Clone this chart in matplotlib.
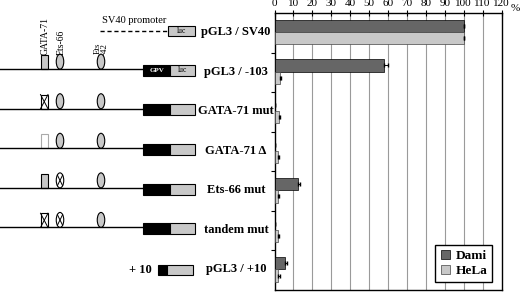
import matplotlib
matplotlib.use("Agg")
import matplotlib.pyplot as plt
from matplotlib.patches import Rectangle, Ellipse
import numpy as np

plt.rcParams['font.family'] = ['Liberation Serif', 'DejaVu Serif']

constructs = ["pGL3 / SV40", "pGL3 / -103", "GATA-71 mut", "GATA-71 \u0394",
              "Ets-66 mut", "tandem mut", "pGL3 / +10"]
dami = [100, 58, 0.5, 0.3, 12.3, 0.3, 5.5]
dami_err = [0, 2, 0, 0, 1.2, 0, 1.0]
hela = [100, 2.9, 2.5, 2.0, 2.0, 2.0, 2.0]
hela_err = [0, 0.7, 0.6, 0.5, 0.5, 0.5, 0.8]
xticks = list(range(0, 121, 10))
series_names = ["Dami", "HeLa"]

# schematic states per row: GATA-71, Ets-66, Ets-42 (None = not present)
gata_state = [None, "wt", "mut", "del", "wt", "mut", None]
ets66_state = [None, "wt", "wt", "wt", "mut", "mut", None]
ets42_state = [None, "wt", "wt", "wt", "wt", "wt", None]

W, H = 520, 293
fig = plt.figure(figsize=(W / 100, H / 100), dpi=100)
x0, x1 = 274.5, 501.5
ytop, ybot = 13, 290
bax = fig.add_axes([x0 / W, 1 - ybot / H, (x1 - x0) / W, (ybot - ytop) / H])
sax = fig.add_axes([0, 1 - ybot / H, x0 / W, (ybot - ytop) / H], zorder=-1)

n = len(constructs)
pos = np.arange(n)
dark = "#666666"
light = "#c8c8c8"
h = 0.31
bax.barh(pos - 0.175, dami, height=h, color=dark, edgecolor="black", lw=0.5, zorder=3, label=series_names[0])
bax.barh(pos + 0.135, hela, height=h, color=light, edgecolor="#444444", lw=0.5, zorder=3, label=series_names[1])
bax.errorbar(dami, pos - 0.175, xerr=[np.zeros(n), dami_err], fmt="none", ecolor="black",
             elinewidth=0.7, capsize=1.5, zorder=4)
bax.errorbar(hela, pos + 0.135, xerr=[np.zeros(n), hela_err], fmt="none", ecolor="black",
             elinewidth=0.7, capsize=1.5, zorder=4)
bax.set_xlim(0, 120)
bax.set_ylim(n - 0.5, -0.5)
bax.set_xticks(xticks)
bax.set_xticklabels([str(t) for t in xticks], fontsize=8)
bax.xaxis.tick_top()
bax.tick_params(axis="x", direction="inout", length=5, width=0.8, pad=1)
bax.set_yticks(np.arange(0.5, n - 0.5, 1))
bax.set_yticklabels([])
bax.tick_params(axis="y", direction="out", length=3, width=0.8)
for v in xticks[1:-1]:
    bax.axvline(v, color="#9a9a9a", lw=0.8, zorder=1)
for s in bax.spines.values():
    s.set_color("black")
    s.set_linewidth(1.0)
fig.text(515 / W, 1 - 13 / H, "%", fontsize=8, ha="center", va="bottom")
leg = bax.legend(loc="lower right", bbox_to_anchor=(0.96, 0.028), borderaxespad=0,
                 fancybox=False, edgecolor="black",
                 framealpha=1, prop={"weight": "bold", "size": 9.5, "family": "Liberation Serif"},
                 handlelength=0.7, handleheight=0.7, handletextpad=0.4, borderpad=0.4,
                 labelspacing=0.2)
leg.get_frame().set_linewidth(1.0)

# schematic
sax.set_xlim(0, x0)
sax.set_ylim(n - 0.5, -0.5)
sax.axis("off")

def rect(x, y, w, hh, fc, ec="black", lw=0.8):
    sax.add_patch(Rectangle((x, y - hh / 2), w, hh, fc=fc, ec=ec, lw=lw, clip_on=False))

def cross(xa, xb, ya, yb):
    sax.plot([xa, xb], [ya, yb], color="black", lw=0.7, clip_on=False)
    sax.plot([xa, xb], [yb, ya], color="black", lw=0.7, clip_on=False)

for i in range(n):
    yl = i - 0.08
    if gata_state[i] is not None:
        sax.plot([0, 143], [yl, yl], color="black", lw=1.0)
        gh = 0.36
        gy = yl - gh / 2
        if gata_state[i] == "wt":
            rect(40.5, gy, 7.5, gh, "#c8c8c8")
        elif gata_state[i] == "mut":
            rect(40.5, gy, 7.5, gh, "white")
            cross(40.5, 48, yl - gh, yl)
        else:
            rect(40.5, gy, 7.5, gh, "white", ec="#aaaaaa")
        eh = 0.38
        for xc, st in ((60, ets66_state[i]), (101, ets42_state[i])):
            fc = "#c8c8c8" if st == "wt" else "white"
            sax.add_patch(Ellipse((xc, yl - eh / 2), 7.5, eh, fc=fc, ec="black", lw=0.8))
            if st == "mut":
                cross(xc - 2.6, xc + 2.6, yl - eh * 0.85, yl - eh * 0.15)
        rect(143, yl + 0.03, 27, 0.28, "black")
        rect(170, yl + 0.03, 25, 0.28, "#c8c8c8")
        if i == 1:
            sax.text(156.5, yl + 0.03, "GPV", color="white", fontsize=5, weight="bold",
                     ha="center", va="center")
            sax.text(182.5, yl + 0.03, "luc", fontsize=5.5, ha="center", va="center")

# row 0: SV40
sax.plot([100, 167], [-0.04, -0.04], color="black", lw=1.0, ls=(0, (3, 2)))
sax.text(134, -0.2, "SV40 promoter", fontsize=7.5, ha="center", va="bottom")
rect(168, -0.04, 27, 0.24, "#c8c8c8")
sax.text(181.5, -0.04, "luc", fontsize=5.5, ha="center", va="center")

# row 6: +10
rect(158, n - 1, 9, 0.24, "black")
rect(167, n - 1, 26, 0.24, "#c8c8c8")
sax.text(152, n - 1, "+ 10", fontsize=9, weight="bold", ha="right", va="center")

# site labels
sax.text(45, 0.55, "GATA-71", rotation=90, fontsize=7, ha="center", va="bottom", clip_on=False)
sax.text(61, 0.55, "Ets-66", rotation=90, fontsize=7, ha="center", va="bottom")
sax.text(101.5, 0.55, "Ets\n-42", rotation=90, fontsize=6.5, ha="center", va="bottom",
         linespacing=0.85)

for i, lab in enumerate(constructs):
    sax.text(236, i - 0.02, lab, fontsize=9, weight="bold", ha="center", va="center")

fig.savefig("out.png", dpi=100)
